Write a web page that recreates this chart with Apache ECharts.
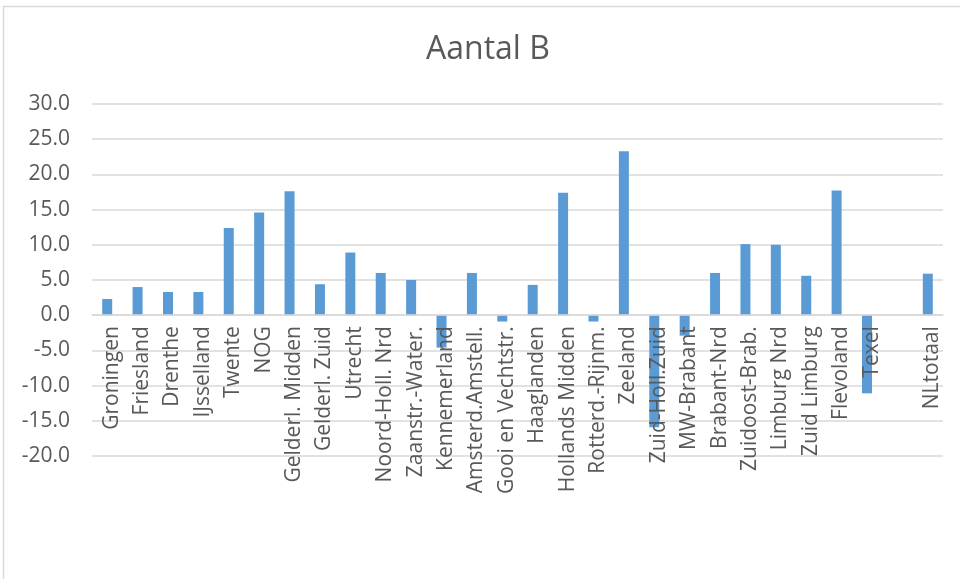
<!DOCTYPE html>
<html>
<head>
<meta charset="utf-8">
<script src="https://cdn.jsdelivr.net/npm/echarts@6/dist/echarts.min.js"></script>
<style>
  html, body { margin: 0; padding: 0; background: #ffffff; }
  #chart { width: 960px; height: 579px; }
</style>
</head>
<body>
<div id="chart"></div>
<script>
// categorieen (regio's), een lege plek voor NLtotaal
var categories = [
  'Groningen', 'Friesland', 'Drenthe', 'IJsselland', 'Twente', 'NOG',
  'Gelderl. Midden', 'Gelderl. Zuid', 'Utrecht', 'Noord-Holl. Nrd',
  'Zaanstr.-Water.', 'Kennemerland', 'Amsterd.Amstell.', 'Gooi en Vechtstr.',
  'Haaglanden', 'Hollands Midden', 'Rotterd.-Rijnm.', 'Zeeland',
  'Zuid-Holl.Zuid', 'MW-Brabant', 'Brabant-Nrd', 'Zuidoost-Brab.',
  'Limburg Nrd', 'Zuid Limburg', 'Flevoland', 'Texel', '', 'NLtotaal'
]
var aantalB = [
  2.3, 4.0, 3.3, 3.3, 12.4, 14.6,
  17.6, 4.4, 8.9, 6.0,
  5.0, -4.6, 6.0, -0.9,
  4.3, 17.4, -0.9, 23.3,
  -15.9, -2.9, 6.0, 10.1,
  10.0, 5.6, 17.7, -11.1, null, 5.9
]
var yTicks = { min: -20, max: 30, interval: 5 }

var myChart = echarts.init(document.getElementById('chart'))
var gridTop = 104
var gridBottom = 123
var plotH = 579 - gridTop - gridBottom
// afstand van de onderkant van het grid tot de nullijn
var zeroOffset = plotH * (0 - yTicks.min) / (yTicks.max - yTicks.min)

var option = {
  backgroundColor: '#ffffff',
  animation: false,
  title: {
    text: 'Aantal B',
    left: 421,
    top: 29,
    textStyle: {
      fontFamily: 'Open Sans',
      fontSize: 32,
      fontWeight: 'normal',
      color: '#595959'
    }
  },
  graphic: [
    {
      type: 'rect',
      shape: { x: 3.5, y: 6.5, width: 1000, height: 1000 },
      style: { fill: 'none', stroke: '#d9d9d9', lineWidth: 1.5 },
      silent: true
    }
  ],
  grid: {
    left: 92,
    right: 17,
    top: gridTop,
    bottom: gridBottom,
    containLabel: false,
    outerBoundsMode: 'none'
  },
  xAxis: {
    type: 'category',
    data: categories,
    z: 3,
    offset: -zeroOffset,
    axisLine: { onZero: false, lineStyle: { color: '#d9d9d9', width: 1.5 } },
    axisTick: { show: false },
    axisLabel: {
      interval: 0,
      rotate: 90,
      margin: 11,
      // tekst iets rechts van het midden, zoals in het origineel
      verticalAlign: 'top',
      lineHeight: 9,
      color: '#595959',
      fontFamily: 'Open Sans',
      fontSize: 21
    }
  },
  yAxis: {
    type: 'value',
    min: yTicks.min,
    max: yTicks.max,
    interval: yTicks.interval,
    axisLine: { show: false },
    axisTick: { show: false },
    splitLine: { lineStyle: { color: '#d9d9d9', width: 1.5 } },
    axisLabel: {
      margin: 22,
      color: '#595959',
      fontFamily: 'Open Sans',
      fontSize: 21,
      formatter: function (v) { return v.toFixed(1) }
    }
  },
  series: [
    {
      type: 'bar',
      data: aantalB,
      barWidth: 10,
      itemStyle: { color: '#5b9bd5' }
    }
  ]
}
myChart.setOption(option)
</script>
</body>
</html>
